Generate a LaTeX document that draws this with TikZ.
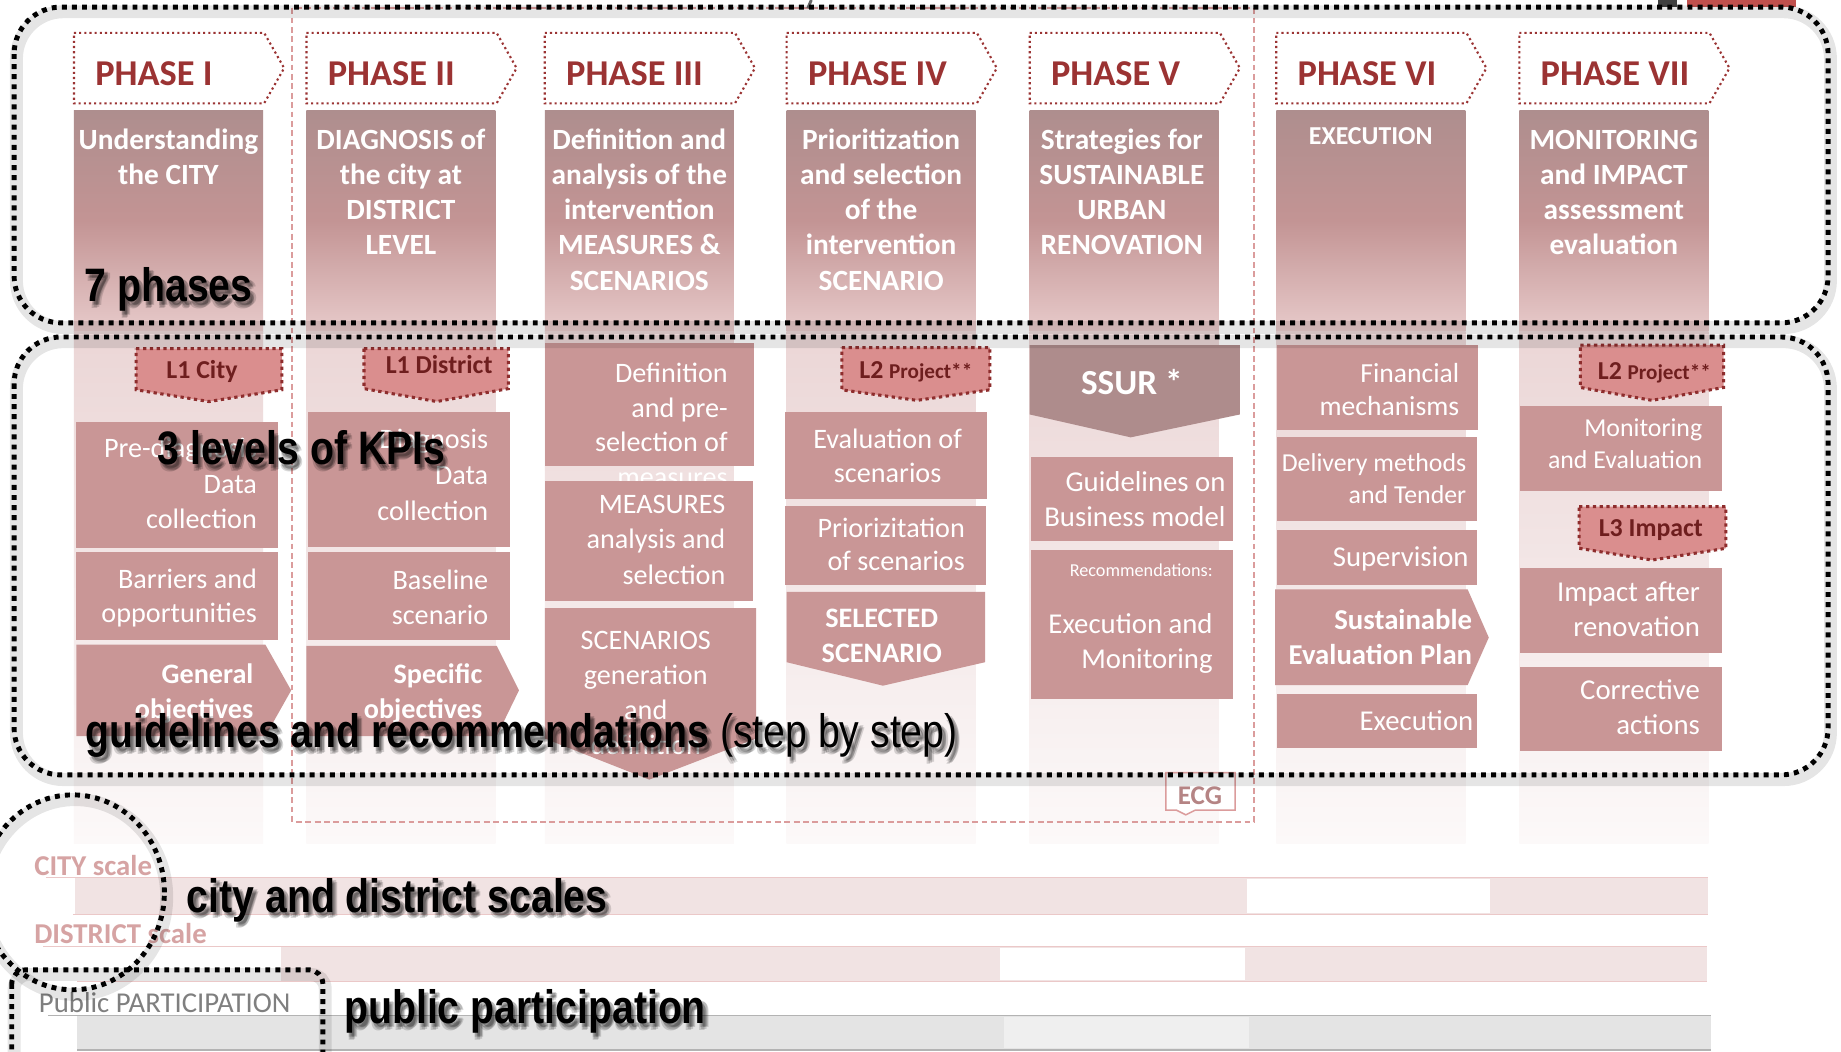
\documentclass[tikz,border=0pt]{standalone}
\usepackage{fontspec}
\setmainfont{Carlito}
\newfontfamily\narrowfont[FakeStretch=0.835]{Liberation Sans}
\definecolor{phred}{HTML}{9B3333}
\definecolor{boxfill}{HTML}{C99696}
\definecolor{coltop}{HTML}{AE8E8E}
\definecolor{colmid}{HTML}{C39494}
\definecolor{colbot}{HTML}{E7CACA}
\definecolor{colbg}{HTML}{EBD6D6}
\definecolor{colfade}{HTML}{FCF9F9}
\definecolor{badgefill}{HTML}{DA8E8E}
\definecolor{badgeline}{HTML}{8E2D2D}
\definecolor{badgetext}{HTML}{6E1E1E}
\definecolor{ssurfill}{HTML}{AE8C8C}
\definecolor{ecgred}{HTML}{DB9C9C}
\definecolor{ecgtext}{HTML}{B58484}
\definecolor{scalepink}{HTML}{D6A3A3}
\definecolor{bandpink}{HTML}{F1E3E3}
\definecolor{bandline}{HTML}{EBC8C8}
\definecolor{bandgray}{HTML}{E4E4E4}
\definecolor{bandlight}{HTML}{EFEFEF}
\definecolor{grayline}{HTML}{B3B3B3}
\definecolor{ppgray}{HTML}{7F7F7F}
\definecolor{topred}{HTML}{C0504D}
\newcommand\RT[3]{\parbox[t]{300pt}{\raggedleft\fontsize{#1}{#2}\selectfont #3}}
\newcommand\CT[3]{\parbox[t]{300pt}{\centering\fontsize{#1}{#2}\selectfont #3}}
\tikzset{
  phasebox/.style={draw=phred, line width=1.8pt, dash pattern=on 1.8pt off 2.6pt, fill=white},
  phasetext/.style={text=phred, inner sep=0pt, font=\fontsize{31}{36}\selectfont\bfseries},
  lowbox/.style={fill=boxfill},
  badge/.style={fill=badgefill, draw=badgeline, line width=2.6pt, dash pattern=on 2.8pt off 3pt},
  badgetxt/.style={text=badgetext, inner sep=0pt, anchor=base, font=\bfseries},
  wr/.style={text=white, inner sep=0pt, anchor=base east},
  wc/.style={text=white, inner sep=0pt, anchor=base},
  kdots/.style={draw=black, line width=4.2pt, dash pattern=on 4.2pt off 4.4pt},
  kglow/.style={draw=black, opacity=0.10, line width=11pt},
  big/.style={text=black, inner sep=0pt, anchor=base west, font=\narrowfont\fontsize{40}{48}\selectfont},
  bigsh/.style={big, text opacity=0.15},
}
\newcommand\shtext[4]{%
  \foreach \dx/\dy [count=\k] in {2/3,3/4.5,4.5/3.5,3.5/2,1.5/5.5}
    {\node[bigsh] (#1s\k) at (#2+\dx,#3+\dy) {#4};}
  \node[big] (#1) at (#2,#3) {#4};}
\begin{document}
\begin{tikzpicture}[x=1pt,y=-1pt]
\useasboundingbox (0,0) rectangle (1568,896);
\fill[white] (0,0) rectangle (1568,896);

% column backgrounds
\foreach \L in {63,261,464,670,877,1087,1294} {
  \shade[top color=coltop, bottom color=colbot, middle color=colmid] (\L,94) rectangle ++(161,188);
  \shade[top color=colbg, bottom color=colfade] (\L,282) rectangle ++(161,436);
}

% phase headers
\foreach \L/\t [count=\i] in {63/I,261/II,464/III,670/IV,877/V,1087/VI,1294/VII} {
  \draw[phasebox] (\L,28) -- ++(162,0) -- ++(17,30) -- ++(-17,30) -- ++(-162,0) -- cycle;
  \node[phasetext, anchor=base west] (ph\i) at (\L+18,72.5) {PHASE \t};
}

% column titles
\node[wc] (c1) at (143.5,127) {\CT{25}{30}{\bfseries Understanding\\the CITY}};
\node[wc] (c2) at (341.5,127) {\CT{25}{30}{\bfseries DIAGNOSIS of\\the city at\\DISTRICT\\LEVEL}};
\node[wc] (c3) at (544.5,127) {\CT{25}{30}{\bfseries Definition and\\analysis of the\\intervention\\MEASURES \&\\SCENARIOS}};
\node[wc] (c4) at (750.5,127) {\CT{25}{30}{\bfseries Prioritization\\and selection\\of the\\intervention\\SCENARIO}};
\node[wc] (c5) at (955.5,127) {\CT{25}{30}{\bfseries Strategies for\\SUSTAINABLE\\URBAN\\RENOVATION}};
\node[wc] (c6) at (1167.5,123) {\CT{22}{30}{\bfseries EXECUTION}};
\node[wc] (c7) at (1374.5,127) {\CT{25}{30}{\bfseries MONITORING\\and IMPACT\\assessment\\evaluation}};

% ---- column I
\draw[badge] (116,297) -- (240,297) -- (240,332) -- (178,342) -- (116,332) -- cycle;
\node[badgetxt] (b1) at (172,322) {\fontsize{22}{26}\selectfont L1 City};
\fill[lowbox] (65,359) rectangle (237,467);
\node[wr] (t1a) at (219,390) {\RT{24}{30}{Pre-diagnosis\\Data\\collection}};
\fill[lowbox] (65,470) rectangle (237,545);
\node[wr] (t1b) at (219,501) {\RT{24}{29}{Barriers and\\opportunities}};
\fill[lowbox] (65,549) -- (226,549) -- (248,588) -- (226,627) -- (65,627) -- cycle;
\node[wr] (t1c) at (216,582) {\RT{24}{30}{\bfseries General\\objectives}};

% ---- column II
\draw[badge] (310,297) -- (433,297) -- (433,331) -- (372,342) -- (310,331) -- cycle;
\node[badgetxt] (b2) at (374,318) {\fontsize{22}{26}\selectfont L1 District};
\fill[lowbox] (262,351) rectangle (434,466);
\node[wr] (t2a) at (416,382) {\RT{24}{30.5}{Diagnosis\\Data\\collection}};
\fill[lowbox] (262,470) rectangle (434,545);
\node[wr] (t2b) at (416,502) {\RT{24}{30}{Baseline\\scenario}};
\fill[lowbox] (261,550) -- (423,550) -- (442,588) -- (423,627) -- (261,627) -- cycle;
\node[wr] (t2c) at (411,582) {\RT{24}{30}{\bfseries Specific\\objectives}};

% ---- column III
\fill[lowbox] (464,292) rectangle (642,397);
\node[wr] (t3a) at (620,325.6) {\RT{24}{29.6}{Definition\\and pre-\\selection of\\measures}};
\fill[lowbox] (464,410) rectangle (641,512);
\node[wr] (t3b) at (618,437) {\RT{24}{30.2}{MEASURES\\analysis and\\selection}};
\fill[lowbox] (464,518) -- (644,518) -- (644,629) -- (553,664) -- (464,629) -- cycle;
\node[wc] (t3c) at (550,553) {\CT{24}{30}{SCENARIOS\\generation\\and\\definition}};

% ---- column IV
\draw[badge] (717,296) -- (843,296) -- (843,332) -- (781,341) -- (717,332) -- cycle;
\node[badgetxt] (b3) at (780,322) {\fontsize{22}{26}\selectfont L2 \fontsize{18}{22}\selectfont Project**};
\fill[lowbox] (669,351) rectangle (841,425);
\node[wc] (t4a) at (756,382) {\CT{24}{29}{Evaluation of\\scenarios}};
\fill[lowbox] (669,431) rectangle (840,498);
\node[wr] (t4b) at (822,457.6) {\RT{24}{28.5}{Priorizitation\\of scenarios}};
\fill[lowbox] (670,504) -- (839,504) -- (839,564) -- (752,584) -- (670,564) -- cycle;
\node[wc] (t4c) at (751,534.6) {\CT{24}{29.8}{\bfseries SELECTED\\SCENARIO}};

% ---- column V
\fill[ssurfill] (877,294) -- (1056,294) -- (1056,353) -- (963,372.5) -- (877,353) -- cycle;
\node[wc] (t5s) at (964,336) {\fontsize{30}{36}\selectfont\bfseries SSUR *};
\fill[lowbox] (878,389.5) rectangle (1050,461);
\node[wr] (t5a) at (1044,418.7) {\RT{24.5}{30}{Guidelines on\\Business model}};
\fill[lowbox] (878,468.4) rectangle (1050,595);
\node[wr] (t5b) at (1033,491) {\fontsize{15.5}{18}\selectfont Recommendations:};
\node[wr] (t5c) at (1033,539.4) {\RT{24.5}{29.6}{Execution and\\Monitoring}};

% ---- column VI
\fill[lowbox] (1088,294) rectangle (1259,366);
\node[wr] (t6a) at (1243,325.6) {\RT{23.5}{28.4}{Financial\\mechanisms}};
\fill[lowbox] (1088,372.4) rectangle (1258,444);
\node[wr] (t6b) at (1249,401.7) {\RT{22}{27}{Delivery methods\\and Tender}};
\fill[lowbox] (1088,451.4) rectangle (1258,498.3);
\node[wr] (t6c) at (1251,482.6) {\fontsize{24.5}{30}\selectfont Supervision};
\fill[lowbox] (1086,502) -- (1250,502) -- (1268,543) -- (1250,583.5) -- (1086,583.5) -- cycle;
\node[wr] (t6d) at (1254,536) {\RT{24.5}{30}{\bfseries Sustainable\\Evaluation Plan}};
\fill[lowbox] (1088,591) rectangle (1258,637.4);
\node[wr] (t6e) at (1255,622) {\fontsize{24.5}{30}\selectfont Execution};

% ---- column VII
\draw[badge] (1346,294) -- (1468,294) -- (1468,330) -- (1407,341) -- (1346,330) -- cycle;
\node[badgetxt] (b4) at (1409,323.6) {\fontsize{22}{26}\selectfont L2 \fontsize{18}{22}\selectfont Project**};
\fill[lowbox] (1295,345.8) rectangle (1467,418);
\node[wr] (t7a) at (1450,372) {\RT{22}{27}{Monitoring\\and Evaluation}};
\draw[badge] (1345,431.5) -- (1470,431.5) -- (1470,467) -- (1407,477) -- (1345,467) -- cycle;
\node[badgetxt] (b5) at (1406,457) {\fontsize{22}{26}\selectfont L3 Impact};
\fill[lowbox] (1295,484) rectangle (1467,556);
\node[wr] (t7b) at (1448,512.5) {\RT{24.5}{29.5}{Impact after\\renovation}};
\fill[lowbox] (1295,568.4) rectangle (1467,640);
\node[wr] (t7c) at (1448,596) {\RT{24.5}{30}{Corrective\\actions}};

% ---- scale bands
\fill[bandpink] (64,747.5) rectangle (1455,779);
\fill[white] (1062,749) rectangle (1269,777.5);
\draw[bandline, line width=1.2pt] (39,747.5) -- (1455,747.5);
\draw[bandline, line width=1.2pt] (62,779) -- (1455,779);
\node[text=scalepink, inner sep=0pt, anchor=base west, font=\fontsize{24.5}{30}\selectfont\bfseries] (cs) at (29,745.5) {CITY scale};

\fill[bandpink] (239,806) rectangle (1454,836);
\fill[white] (852,807.5) rectangle (1060,834.5);
\draw[bandline, line width=1.2pt] (37,806) -- (1454,806);
\draw[bandline, line width=1.2pt] (66,836) -- (1454,836);
\node[text=scalepink, inner sep=0pt, anchor=base west, font=\fontsize{24.5}{30}\selectfont\bfseries] (ds) at (29,803.7) {DISTRICT scale};

\fill[bandgray] (66,865) rectangle (1457,894);
\fill[bandlight] (855,866) rectangle (1064,893);
\draw[grayline, line width=1.5pt] (41,865) -- (1457,865);
\draw[grayline, line width=1.5pt] (66,894) -- (1457,894);
\node[text=ppgray, inner sep=0pt, anchor=base west, font=\fontsize{24.5}{30}\selectfont] (pp) at (33,862) {Public PARTICIPATION};

% ---- ECG dashed frame
\draw[ecgred, line width=1.6pt, dash pattern=on 5pt off 3pt] (249,7) rectangle (1068,700);
\draw[ecgred, line width=1.3pt, fill=white] (993,658) -- (1052,658) -- (1052,690) -- (1018,690) -- (1010,694) -- (1002,690) -- (993,690) -- cycle;
\node[text=ecgtext, inner sep=0pt, anchor=base, font=\fontsize{23}{26}\selectfont\bfseries] (ecg) at (1022,685) {ECG};

% ---- top edge fragments
\draw[black!60, line width=2.5pt] (691,0) -- (688,7);
\fill[black!75] (1412,0) rectangle (1428,6);
\fill[topred] (1437,0) rectangle (1530,6);

% ---- black dotted frames
\begin{scope}[shift={(2,4)}]
\draw[kglow, rounded corners=40pt] (12,6) rectangle (1557,275);
\draw[kglow, rounded corners=40pt] (12,287) rectangle (1557,660);
\draw[kglow] (62,760) ellipse [x radius=78pt, y radius=83pt];
\draw[kglow, rounded corners=12pt] (10,826) rectangle (275,930);
\end{scope}
\draw[kdots, rounded corners=40pt] (12,6) rectangle (1557,275);
\draw[kdots, rounded corners=40pt] (12,287) rectangle (1557,660);
\draw[kdots] (62,760) ellipse [x radius=78pt, y radius=83pt];
\draw[kdots, rounded corners=12pt] (10,826) rectangle (275,930);

% ---- big labels
\shtext{L7}{72}{257}{\bfseries 7 phases}
\shtext{L3}{134}{396}{\bfseries 3 levels of KPIs}
\shtext{LG}{73}{637}{{\bfseries guidelines and recommendations} (step by step)}
\shtext{LC}{159}{777}{\bfseries city and district scales}
\shtext{LP}{293}{872}{\bfseries public participation}
\end{tikzpicture}
\end{document}
